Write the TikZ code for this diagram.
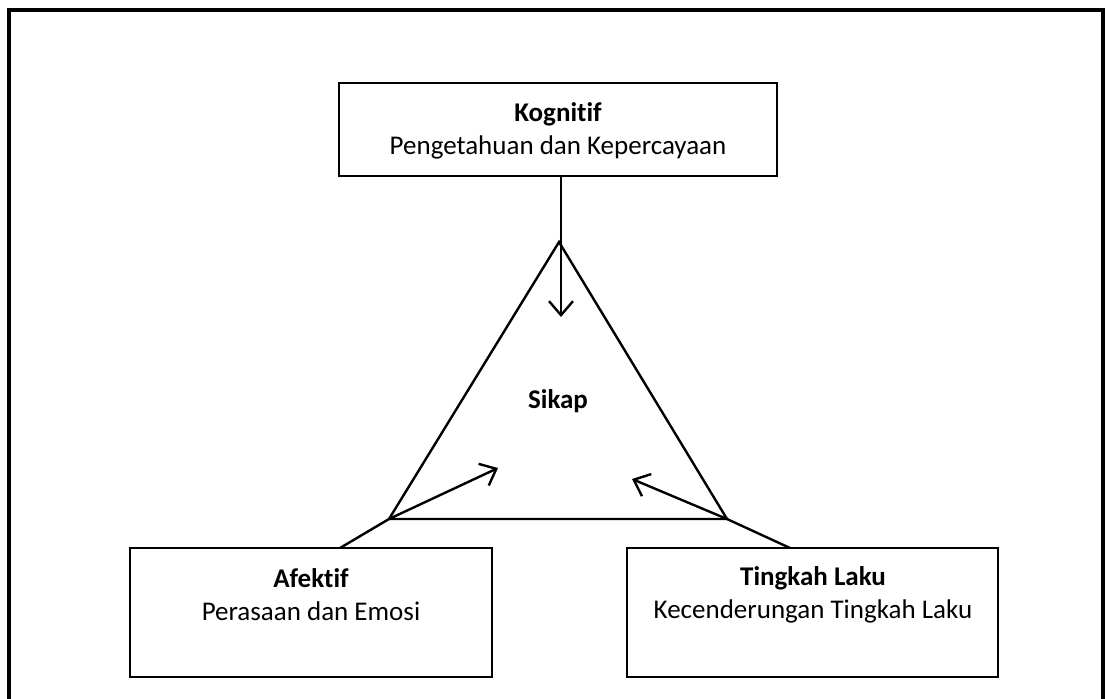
\documentclass[tikz,border=0pt]{standalone}
\usepackage{fontspec}
\setmainfont{Carlito}[Ligatures=NoCommon]
\usetikzlibrary{arrows.meta}
\begin{document}
\begin{tikzpicture}[x=1pt,y=-1pt,
  box/.style={draw,line width=2.4pt,inner sep=0pt},
  lbl/.style={inner sep=0pt,align=center,font=\fontsize{27}{33}\selectfont},
  conn/.style={line width=2.4pt},
  arr/.style={line width=2.4pt,-{Straight Barb[length=14pt,width=24pt,line width=2.4pt]}}]
\useasboundingbox (0,0) rectangle (1107,698);
\draw[line width=3.5pt] (9,10) rectangle (1103,710);
% boxes
\node[box,minimum width=438pt,minimum height=93pt] (kog) at (558,129.5) {};
\node[box,minimum width=362pt,minimum height=129pt] (afe) at (311,612.5) {};
\node[box,minimum width=371pt,minimum height=129pt] (tin) at (812.5,612.5) {};
% texts
\node[lbl] (kogt) at (558,131) {\textbf{Kognitif}\\Pengetahuan dan Kepercayaan};
\node[lbl] (afet) at (311,595) {\textbf{Afektif}\\Perasaan dan Emosi};
\node[lbl] (tint) at (813,595) {\textbf{Tingkah Laku}\\Kecenderungan Tingkah Laku};
\node[lbl] (sik) at (558,401) {\textbf{Sikap}};
% triangle
\coordinate (apex) at (559,242);
\coordinate (bl) at (389,519);
\coordinate (br) at (727,519);
\draw[conn,line join=miter] (apex) -- (bl) -- (br) -- cycle;
% connectors
\coordinate (kogend) at (561,317);
\draw[arr] (kog.south -| kogend) -- (kogend);
\coordinate (afefoot) at (340,548);
\coordinate (afetip) at (498,468);
\draw[conn] (afefoot) -- (bl);
\draw[arr] (bl) -- (afetip);
\coordinate (tinfoot) at (790,548);
\coordinate (tintip) at (632,479);
\draw[conn] (tinfoot) -- (br);
\draw[arr] (br) -- (tintip);
\end{tikzpicture}
\end{document}
